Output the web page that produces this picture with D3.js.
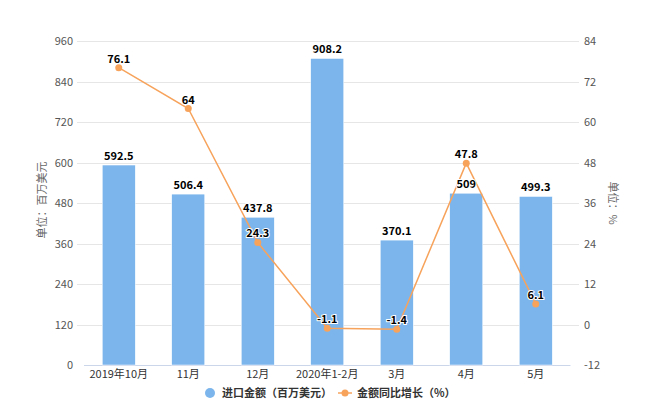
<!DOCTYPE html>
<html><head><meta charset="utf-8">
<script src="https://cdn.jsdelivr.net/npm/d3@7"></script>
<style>
body{margin:0;background:#fff;}
text{font-family:"Noto Sans CJK SC","Noto Sans",sans-serif;}
</style></head>
<body><svg id="c" width="650" height="420"></svg>
<script>
const categories = ["2019年10月","11月","12月","2020年1-2月","3月","4月","5月"];
const importValues = [592.5,506.4,437.8,908.2,370.1,509,499.3];
const growthValues = [76.1,64,24.3,-1.1,-1.4,47.8,6.1];
const leftTicks = [0,120,240,360,480,600,720,840,960];
const rightTicks = [-12,0,12,24,36,48,60,72,84];
const seriesNames = ["进口金额（百万美元）","金额同比增长（%）"];

(function(){
const svg = d3.select("#c");
const pL = 84, pR = 570.5, pT = 41, pB = 365;
const x = d3.scaleBand().domain(categories).range([pL,pR]).paddingInner(0.525).paddingOuter(0.2625);
const yL = d3.scaleLinear().domain([0,960]).range([pB,pT]);
const yR = d3.scaleLinear().domain([-12,84]).range([pB,pT]);

svg.append("g").selectAll("line").data(leftTicks.filter(d=>d>0)).join("line")
  .attr("x1",77).attr("x2",579).attr("y1",d=>Math.round(yL(d))+0.5).attr("y2",d=>Math.round(yL(d))+0.5)
  .attr("stroke","#e6e6e6").attr("stroke-width",1);
svg.append("line").attr("x1",pL).attr("x2",pR).attr("y1",pB+0.5).attr("y2",pB+0.5)
  .attr("stroke","#ccd6eb").attr("stroke-width",1);

svg.append("g").selectAll("text").data(leftTicks).join("text")
  .attr("x",73).attr("y",d=>yL(d)+4).attr("text-anchor","end")
  .attr("font-size",11).attr("fill","#555").text(d=>d);
svg.append("g").selectAll("text").data(rightTicks).join("text")
  .attr("x",584).attr("y",d=>yR(d)+4).attr("text-anchor","start")
  .attr("font-size",11).attr("fill","#555").text(d=>d);

svg.append("text").attr("transform","translate(46,200) rotate(-90)").attr("text-anchor","middle")
  .attr("font-size",11).attr("fill","#666").text("单位：百万美元");
svg.append("text").attr("transform","translate(609,203) rotate(90)").attr("text-anchor","middle")
  .attr("font-size",11).attr("fill","#666").text("单位：%");

svg.append("g").selectAll("text").data(categories).join("text")
  .attr("x",d=>x(d)+x.bandwidth()/2).attr("y",378).attr("text-anchor","middle")
  .attr("font-size",11).attr("fill","#333").text(d=>d);

svg.append("g").selectAll("rect").data(importValues).join("rect")
  .attr("x",(d,i)=>x(categories[i])).attr("width",x.bandwidth())
  .attr("y",d=>yL(d)).attr("height",d=>pB-yL(d))
  .attr("fill","#7cb5ec").attr("stroke","#fff").attr("stroke-width",0.5);

const cx = i=>x(categories[i])+x.bandwidth()/2;
svg.append("path").datum(growthValues)
  .attr("d",d3.line().x((d,i)=>cx(i)).y(d=>yR(d)))
  .attr("fill","none").attr("stroke","#f7a35c").attr("stroke-width",1.5);
svg.append("g").selectAll("circle").data(growthValues).join("circle")
  .attr("cx",(d,i)=>cx(i)).attr("cy",d=>yR(d)).attr("r",3.5).attr("fill","#f7a35c");

svg.append("g").selectAll("text").data(importValues).join("text")
  .attr("x",(d,i)=>cx(i)).attr("y",d=>yL(d)-5).attr("text-anchor","middle")
  .attr("font-size",11).attr("font-weight","bold").attr("fill","#000")
  .attr("stroke","#fff").attr("stroke-width",2).attr("paint-order","stroke")
  .attr("font-family","'Noto Sans',sans-serif").text(d=>d);
svg.append("g").selectAll("text").data(growthValues).join("text")
  .attr("x",(d,i)=>cx(i)).attr("y",d=>yR(d)-5).attr("text-anchor","middle")
  .attr("font-size",11).attr("font-weight","bold").attr("fill","#000")
  .attr("stroke","#fff").attr("stroke-width",2).attr("paint-order","stroke")
  .attr("font-family","'Noto Sans',sans-serif").text(d=>d);

const lg = svg.append("g");
lg.append("circle").attr("cx",210).attr("cy",393).attr("r",5).attr("fill","#7cb5ec");
lg.append("text").attr("x",222).attr("y",397).attr("font-size",11).attr("font-weight","bold").attr("fill","#333").text(seriesNames[0]);
lg.append("line").attr("x1",338).attr("x2",352).attr("y1",393).attr("y2",393).attr("stroke","#f7a35c").attr("stroke-width",1.5);
lg.append("circle").attr("cx",345).attr("cy",393).attr("r",3.5).attr("fill","#f7a35c");
lg.append("text").attr("x",357).attr("y",397).attr("font-size",11).attr("font-weight","bold").attr("fill","#333").text(seriesNames[1]);
})();
</script></body></html>
